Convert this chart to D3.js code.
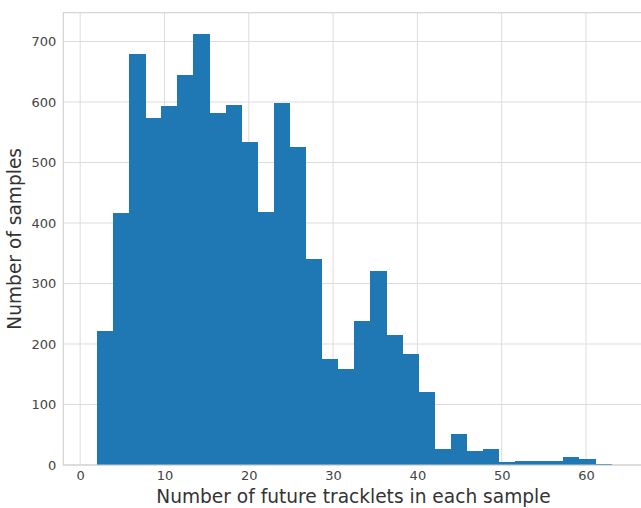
<!DOCTYPE html>
<html>
<head>
<meta charset="utf-8">
<script src="https://cdn.jsdelivr.net/npm/d3@7"></script>
<style>
  body { margin: 0; background: #fff; }
  svg { display: block; font-family: "DejaVu Sans", sans-serif; }
</style>
</head>
<body>
<div id="chart"></div>
<script>
// histogram: 32 bins over [2, 63]
var binStart = 2;
var binEnd = 63;
var counts = [222, 417, 680, 573, 594, 644, 712, 582, 595, 534, 418, 599, 526, 341,
              175, 159, 238, 320, 215, 183, 121, 26, 51, 23, 26, 5, 7, 7, 7, 14, 10, 2];
var xTicks = [0, 10, 20, 30, 40, 50, 60];
var yTicks = [0, 100, 200, 300, 400, 500, 600, 700];

var width = 641, height = 508;
var margins = { top: 12.7, right: -4, bottom: 43, left: 63.3 };

var binWidth = (binEnd - binStart) / counts.length;
var bins = counts.map(function (c, i) {
  return { x0: binStart + i * binWidth, x1: binStart + (i + 1) * binWidth, count: c };
});

var svg = d3.select("#chart").append("svg")
  .attr("width", width)
  .attr("height", height);

var scaleX = d3.scaleLinear()
  .domain([-2, 67])
  .range([margins.left, width - margins.right]);

var scaleY = d3.scaleLinear()
  .domain([0, d3.max(counts) * 1.05])
  .range([height - margins.bottom, margins.top]);

// grid
var grid = svg.append("g").attr("class", "grid");
grid.selectAll("line.gx")
  .data(xTicks)
  .enter().append("line")
  .attr("x1", function (d) { return scaleX(d); })
  .attr("x2", function (d) { return scaleX(d); })
  .attr("y1", scaleY.range()[0])
  .attr("y2", scaleY.range()[1])
  .attr("stroke", "#dcdcdc")
  .attr("stroke-width", 1);

grid.selectAll("line.gy")
  .data(yTicks)
  .enter().append("line")
  .attr("x1", scaleX.range()[0])
  .attr("x2", scaleX.range()[1])
  .attr("y1", function (d) { return scaleY(d); })
  .attr("y2", function (d) { return scaleY(d); })
  .attr("stroke", "#dcdcdc")
  .attr("stroke-width", 1);

// bars
svg.append("g").selectAll("rect")
  .data(bins)
  .enter().append("rect")
  .attr("x", function (d) { return scaleX(d.x0); })
  .attr("width", function (d) { return scaleX(d.x1) - scaleX(d.x0) + 0.3; })
  .attr("y", function (d) { return scaleY(d.count); })
  .attr("height", function (d) { return scaleY(0) - scaleY(d.count); })
  .attr("fill", "#1f77b4")
  .attr("shape-rendering", "crispEdges");

// spines
var plotLeft = scaleX.range()[0], plotRight = scaleX.range()[1];
var plotTop = scaleY.range()[1], plotBottom = scaleY.range()[0];
svg.append("rect")
  .attr("x", plotLeft)
  .attr("y", plotTop)
  .attr("width", plotRight - plotLeft)
  .attr("height", plotBottom - plotTop)
  .attr("fill", "none")
  .attr("stroke", "#cccccc")
  .attr("stroke-width", 1);

// axes (no tick marks, labels only)
var xAxis = svg.append("g")
  .attr("transform", "translate(0," + plotBottom + ")")
  .call(d3.axisBottom(scaleX).tickValues(xTicks).tickSize(0).tickPadding(6));
var yAxis = svg.append("g")
  .attr("transform", "translate(" + plotLeft + ",0)")
  .call(d3.axisLeft(scaleY).tickValues(yTicks).tickSize(0).tickPadding(7));

[xAxis, yAxis].forEach(function (ax) {
  ax.select(".domain").remove();
  ax.selectAll("text")
    .attr("font-family", "DejaVu Sans, sans-serif")
    .attr("font-size", "13px")
    .attr("fill", "#444");
});

// labels
svg.append("text")
  .attr("x", (155 + 552) / 2)
  .attr("y", 503)
  .attr("text-anchor", "middle")
  .attr("font-size", "18.6px")
  .attr("fill", "#333")
  .text("Number of future tracklets in each sample");

svg.append("text")
  .attr("transform", "translate(21," + ((plotTop + plotBottom) / 2) + ") rotate(-90)")
  .attr("text-anchor", "middle")
  .attr("font-size", "18.6px")
  .attr("fill", "#333")
  .text("Number of samples");
</script>
</body>
</html>
